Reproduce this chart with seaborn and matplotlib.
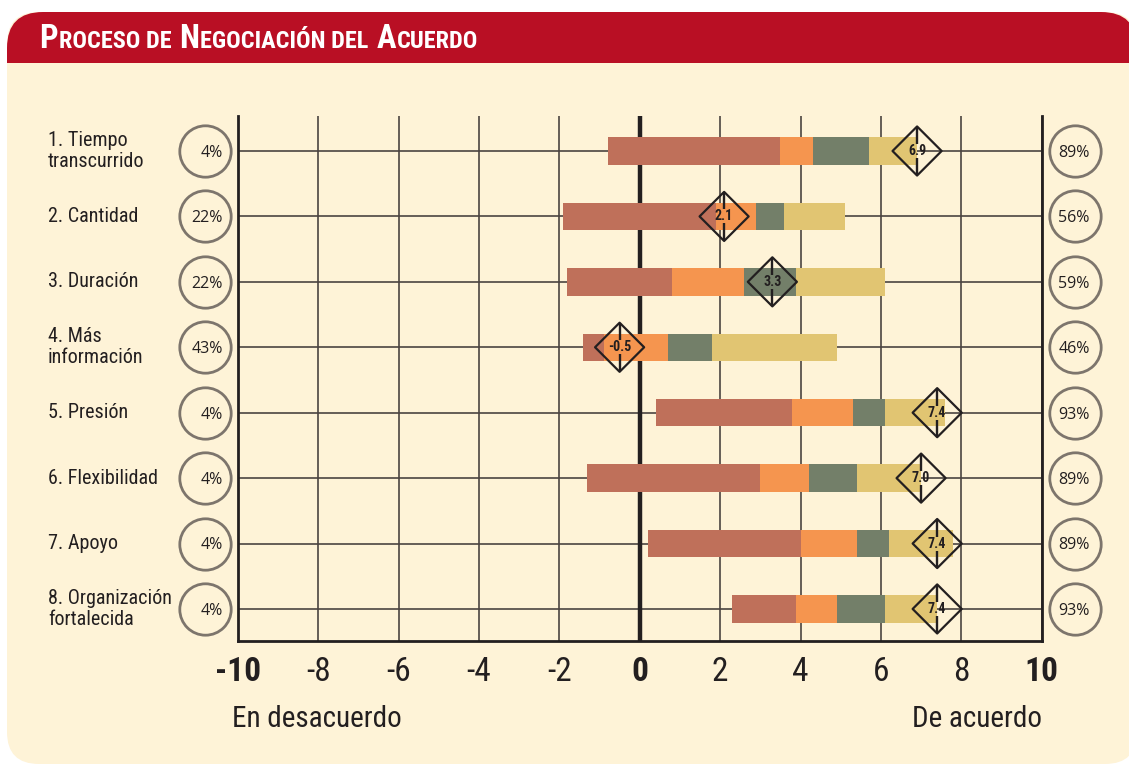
import numpy as np
import pandas as pd
import matplotlib
matplotlib.use("Agg")
import matplotlib.pyplot as plt
import seaborn as sns
from matplotlib.patches import FancyBboxPatch, Rectangle
from matplotlib.path import Path

# ── Data ─────────────────────────────────────────────────────────────────────
categories = ["1. Tiempo\ntranscurrido", "2. Cantidad", "3. Duración",
              "4. Más\ninformación", "5. Presión", "6. Flexibilidad",
              "7. Apoyo", "8. Organización\nfortalecida"]
bar_start = [-0.8, -1.9, -1.8, -1.4, 0.4, -1.3, 0.2, 2.3]
seg1_end = [3.5, 1.9, 0.8, -0.9, 3.8, 3.0, 4.0, 3.9]
seg2_end = [4.3, 2.9, 2.6, 0.7, 5.3, 4.2, 5.4, 4.9]
seg3_end = [5.7, 3.6, 3.9, 1.8, 6.1, 5.4, 6.2, 6.1]
seg4_end = [6.9, 5.1, 6.1, 4.9, 7.6, 7.0, 7.8, 7.4]
means = [6.9, 2.1, 3.3, -0.5, 7.4, 7.0, 7.4, 7.4]
pct_disagree = [4, 22, 22, 43, 4, 4, 4, 4]
pct_agree = [89, 56, 59, 46, 93, 89, 89, 93]
tick_values = list(range(-10, 11, 2))
tick_labels = ["-10", "-8", "-6", "-4", "-2", "0", "2", "4", "6", "8", "10"]

seg_colors = ["#bf705a", "#f5954f", "#737f69", "#e1c572"]
CREAM = "#fef3d7"
RED = "#b90f24"
INK = "#231f20"
NARROW = ["Roboto Condensed", "DejaVu Sans Condensed", "Liberation Sans Narrow",
          "Open Sans Condensed", "Roboto", "DejaVu Sans"]
ROUND = ["Open Sans", "DejaVu Sans"]

rows = np.arange(len(categories))
bounds = [bar_start, seg1_end, seg2_end, seg3_end, seg4_end]

# vertical tick through the diamond, with a gap for the number
split_tick = Path([(0, -1), (0, -0.3), (0, 0.3), (0, 1)],
                  [Path.MOVETO, Path.LINETO, Path.MOVETO, Path.LINETO])

# ── Figure ───────────────────────────────────────────────────────────────────
sns.set_theme(style="white")
plt.rcParams["font.family"] = NARROW

W, H = 1129, 766
fig = plt.figure(figsize=(W / 100, H / 100), dpi=100, facecolor="white")

# background panel in pixel coordinates
bg = fig.add_axes([0, 0, 1, 1], zorder=0)
bg.set_xlim(0, W)
bg.set_ylim(H, 0)
bg.axis("off")
bg.add_patch(FancyBboxPatch((7, 12), 1130, 752,
                            boxstyle="round,pad=0,rounding_size=32", fc=CREAM, ec="none"))
bg.add_patch(FancyBboxPatch((7, 12), 1130, 110,
                            boxstyle="round,pad=0,rounding_size=36", fc=RED, ec="none"))
bg.add_patch(Rectangle((7, 63), 1130, 70, fc=CREAM, ec="none"))

# title in small caps
fig.canvas.draw()
renderer = fig.canvas.get_renderer()
pieces = [("P", True), ("ROCESO DE", False), ("N", True), ("EGOCIACIÓN DEL", False),
          ("A", True), ("CUERDO", False)]
x = 39
for txt, big in pieces:
    fs = 23.5 if big else 17.5
    t = bg.text(x, 48.5, txt, fontsize=fs, color="white", fontweight="bold",
                va="baseline", ha="left")
    x += t.get_window_extent(renderer).width + 1
    if not big:
        x += fs * 0.4

# main axes
ax = fig.add_axes([237.7 / W, 1 - 641 / H, 804 / W, 525 / H], zorder=1)
ax.set_facecolor("none")

for i in range(4):
    widths = np.array(bounds[i + 1]) - np.array(bounds[i])
    sns.barplot(x=widths, y=rows, orient="h", color=seg_colors[i], saturation=1,
                width=0.42, left=bounds[i], errorbar=None, ax=ax, zorder=3,
                linewidth=0)

ax.axvline(0, color=INK, lw=3.2, zorder=2)

# diamonds with mean values
sns.scatterplot(x=means, y=rows, marker="D", s=625, color=INK, facecolor="none",
                edgecolor=INK, linewidth=1.6, ax=ax, zorder=5, legend=False)
ax.plot(means, rows, ls="none", marker=split_tick, ms=35, mew=1.7, color=INK,
        zorder=5)
for xv, yv in zip(means, rows):
    ax.text(xv, yv, f"{xv:.1f}", ha="center", va="center", fontsize=10,
            fontweight="bold", color=INK, zorder=6, family=NARROW)

ax.set_xlim(-10, 10)
ax.set_ylim(7.49, -0.535)
ax.set_xticks(tick_values)
ax.set_xticklabels(tick_labels)
for lab, v in zip(ax.get_xticklabels(), tick_values):
    lab.set_fontsize(24)
    lab.set_color(INK)
    if v in (-10, 0, 10):
        lab.set_fontweight("bold")
ax.set_yticks(rows)
ax.tick_params(axis="x", length=0, pad=11)
ax.tick_params(axis="y", length=0, labelleft=False)
ax.set_xlabel("")
ax.set_ylabel("")
ax.grid(True, color="#4a4440", lw=1.2, zorder=0)
ax.set_axisbelow(True)
for side in ("left", "right", "bottom"):
    ax.spines[side].set_visible(True)
    ax.spines[side].set_color(INK)
    ax.spines[side].set_linewidth(2)
ax.spines["top"].set_visible(False)

# row labels and percentage circles
ytr = ax.get_yaxis_transform()
for yv, name, pl, pr in zip(rows, categories, pct_disagree, pct_agree):
    ax.text(-0.236, yv, name, transform=ytr, ha="left", va="center", fontsize=14.5,
            color=INK, linespacing=1.12, clip_on=False)
    ax.text(-0.0187, yv + 0.03, f"{pl}%", transform=ytr, ha="right", va="center",
            fontsize=11.5, color=INK, clip_on=False, family=ROUND)
    ax.text(1.0403, yv + 0.03, f"{pr}%", transform=ytr, ha="center", va="center",
            fontsize=11.5, color=INK, clip_on=False, family=ROUND)
ax.plot(np.full(len(rows), -0.0407), rows, transform=ytr, ls="none", marker="o",
        ms=37, mfc="none", mec="#7d756c", mew=2, clip_on=False)
ax.plot(np.full(len(rows), 1.0414), rows, transform=ytr, ls="none", marker="o",
        ms=37, mfc="none", mec="#7d756c", mew=2, clip_on=False)

fig.text(232 / W, 1 - 719 / H, "En desacuerdo", fontsize=21, color=INK,
         ha="left", va="center")
fig.text(1042 / W, 1 - 719 / H, "De acuerdo", fontsize=21, color=INK,
         ha="right", va="center")

fig.savefig("out.png", dpi=100, facecolor="white")
